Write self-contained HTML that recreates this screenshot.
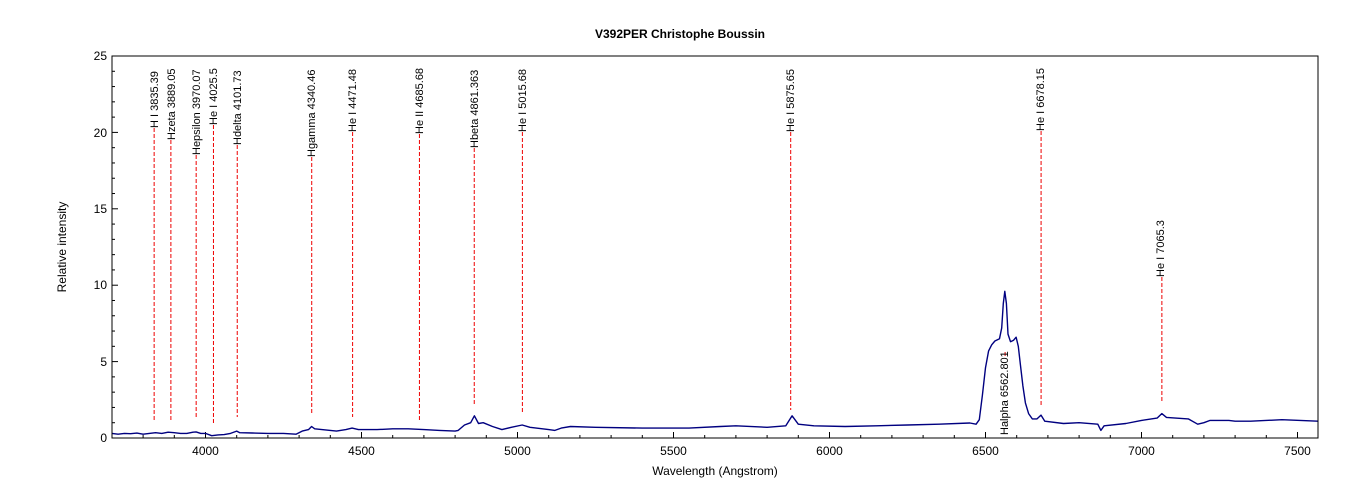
<!DOCTYPE html>
<html><head><meta charset="utf-8"><style>
html,body{margin:0;padding:0;background:#fff;}
svg{display:block;font-family:"Liberation Sans",Arial,sans-serif;}
</style></head><body>
<svg id="s" width="1360" height="500" viewBox="0 0 1360 500">
<rect width="1360" height="500" fill="#fff"/>
<text x="680" y="38" font-size="12" font-weight="bold" text-anchor="middle">V392PER   Christophe Boussin</text>
<text x="715" y="475" font-size="12" text-anchor="middle">Wavelength (Angstrom)</text>
<text transform="translate(66,247) rotate(-90)" font-size="12" text-anchor="middle">Relative intensity</text>
<g font-size="12" text-anchor="end">
<text x="107" y="442">0</text><text x="107" y="366">5</text><text x="107" y="289">10</text>
<text x="107" y="213">15</text><text x="107" y="137">20</text><text x="107" y="60">25</text>
</g>
<g font-size="12" text-anchor="middle">
<text x="205.5" y="455">4000</text><text x="361.5" y="455">4500</text><text x="517.5" y="455">5000</text>
<text x="673.5" y="455">5500</text><text x="829.5" y="455">6000</text><text x="985.5" y="455">6500</text>
<text x="1141.5" y="455">7000</text><text x="1297.5" y="455">7500</text>
</g>
<g id="ticks" stroke="#000" stroke-width="1"></g>
<g id="lines" stroke="#e00" stroke-width="1" stroke-dasharray="4,2"></g>
<g font-size="11" fill="#000">
<text transform="translate(158,128) rotate(-90)">H I 3835.39</text>
<text transform="translate(175,140) rotate(-90)">Hzeta 3889.05</text>
<text transform="translate(200,155) rotate(-90)">Hepsilon 3970.07</text>
<text transform="translate(217,125) rotate(-90)">He I 4025.5</text>
<text transform="translate(241,145) rotate(-90)">Hdelta 4101.73</text>
<text transform="translate(315,157) rotate(-90)">Hgamma 4340.46</text>
<text transform="translate(356,132) rotate(-90)">He I 4471.48</text>
<text transform="translate(423,134) rotate(-90)">He II 4685.68</text>
<text transform="translate(478,148) rotate(-90)">Hbeta 4861.363</text>
<text transform="translate(526,132) rotate(-90)">He I 5015.68</text>
<text transform="translate(794,132) rotate(-90)">He I 5875.65</text>
<text transform="translate(1044,131) rotate(-90)">He I 6678.15</text>
<text transform="translate(1164,277) rotate(-90)">He I 7065.3</text>
<text transform="translate(1008,435) rotate(-90)">Halpha 6562.801</text>
</g>
<polyline id="spec" fill="none" stroke="#000080" stroke-width="1.4" stroke-linejoin="round" points=""/>
<rect x="112" y="56" width="1206" height="382" fill="none" stroke="#000" stroke-width="1"/>
</svg>
<script>
var X=function(l){return 205.5+(l-4000)*0.312;};
var Y=function(v){return 438-v*15.28;};
var d=[3700,.3,3720,.25,3740,.3,3760,.28,3780,.32,3800,.25,3820,.3,3840,.35,3860,.3,3880,.38,3900,.35,3920,.3,3940,.3,3960,.38,3970,.4,3985,.3,4000,.3,4020,.15,4040,.2,4060,.22,4080,.3,4100,.45,4110,.35,4150,.33,4200,.3,4250,.3,4290,.25,4310,.45,4330,.55,4340,.75,4350,.6,4400,.5,4420,.45,4450,.55,4470,.65,4490,.55,4550,.55,4600,.6,4650,.6,4700,.55,4750,.5,4800,.45,4810,.5,4830,.85,4850,1.0,4862,1.45,4875,.95,4890,1.0,4920,.75,4950,.55,4980,.7,5015,.85,5040,.7,5100,.55,5120,.5,5140,.65,5170,.75,5250,.7,5400,.65,5550,.65,5650,.75,5700,.8,5800,.7,5860,.8,5880,1.45,5900,.9,5950,.8,6050,.75,6150,.8,6250,.85,6350,.9,6450,.98,6470,.9,6480,1.2,6490,2.8,6500,4.6,6510,5.7,6520,6.1,6530,6.35,6545,6.5,6552,7.2,6557,8.8,6562,9.6,6567,8.8,6572,6.8,6580,6.3,6590,6.4,6598,6.6,6605,6.0,6612,4.8,6620,3.4,6628,2.3,6638,1.6,6650,1.25,6665,1.25,6678,1.5,6690,1.1,6750,.95,6800,1.0,6860,.9,6870,.5,6880,.8,6950,.95,7000,1.15,7050,1.3,7065,1.6,7080,1.35,7150,1.25,7180,.9,7200,1.0,7220,1.15,7280,1.15,7300,1.1,7350,1.1,7450,1.2,7566,1.1];
var p=[];for(var i=0;i<d.length;i+=2)p.push(X(d[i]).toFixed(1)+","+Y(d[i+1]).toFixed(1));
document.getElementById("spec").setAttribute("points",p.join(" "));
var t="";
for(var v=0;v<=25;v++){var y=Y(v),L=(v%5==0)?6:3;t+='<line x1="112" y1="'+y+'" x2="'+(112+L)+'" y2="'+y+'"/>';}
for(var l=3800;l<=7500;l+=100){var x=X(l),L=(l%500==0)?6:3;t+='<line x1="'+x+'" y1="438" x2="'+x+'" y2="'+(438-L)+'"/>';}
document.getElementById("ticks").innerHTML=t;
var ln=[[3835.39,128,422],[3889.05,140,421],[3970.07,155,418],[4025.5,125,424],[4101.73,145,417],[4340.46,157,414],[4471.48,132,417],[4685.68,134,420],[4861.363,148,405],[5015.68,132,414],[5875.65,132,410],[6678.15,131,405],[7065.3,277,403],[6562.801,352,356]];
var s="";ln.forEach(function(a){var x=X(a[0]);s+='<line x1="'+x+'" y1="'+a[1]+'" x2="'+x+'" y2="'+a[2]+'"/>';});
document.getElementById("lines").innerHTML=s;
</script>
</body></html>
